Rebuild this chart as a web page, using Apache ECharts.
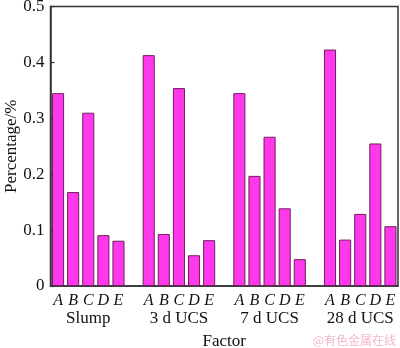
<!DOCTYPE html>
<html>
<head>
<meta charset="utf-8">
<script src="https://cdn.jsdelivr.net/npm/echarts@6/dist/echarts.min.js"></script>
<style>
  html, body { margin: 0; padding: 0; background: #fff; }
  #chart { width: 400px; height: 348px; }
</style>
</head>
<body>
<div id="chart"></div>
<script>
// Factor labels and the grouped response measures
const factors = ['A', 'B', 'C', 'D', 'E'];
const groups = ['Slump', '3 d UCS', '7 d UCS', '28 d UCS'];

// Percentage contribution of each factor, per response
const slump = [0.345, 0.168, 0.310, 0.091, 0.081];
const ucs3d = [0.413, 0.093, 0.354, 0.055, 0.082];
const ucs7d = [0.345, 0.197, 0.267, 0.139, 0.048];
const ucs28d = [0.423, 0.083, 0.129, 0.255, 0.107];

const yTicks = [0, 0.1, 0.2, 0.3, 0.4, 0.5];

// Build one category slot per bar, with an empty slot between groups
const seriesSets = [slump, ucs3d, ucs7d, ucs28d];
const cats = [];
const groupCats = [];
const values = [];
seriesSets.forEach((set, g) => {
  set.forEach((v, i) => {
    cats.push(factors[i]);
    groupCats.push(i === 2 ? groups[g] : '');
    values.push(v);
  });
  if (g < seriesSets.length - 1) {
    cats.push('');
    groupCats.push('');
    values.push('-');
  }
});

const serif = 'Liberation Serif, Times New Roman, serif';
const chart = echarts.init(document.getElementById('chart'));
chart.setOption({
  animation: false,
  grid: {
    left: 50.5, right: 2, top: 6.5, bottom: 62,
    containLabel: false,
    outerBoundsMode: 'none',
    show: true, borderColor: '#333', borderWidth: 1.5
  },
  xAxis: [
    {
      type: 'category',
      data: cats,
      axisLine: { lineStyle: { color: '#333', width: 1.5 } },
      axisTick: { show: false },
      axisLabel: {
        interval: 0, margin: 7, color: '#111',
        fontFamily: serif, fontSize: 16, fontStyle: 'italic'
      }
    },
    {
      type: 'category',
      data: groupCats,
      position: 'bottom',
      axisLine: { show: false },
      axisTick: { show: false },
      axisLabel: {
        interval: 0, margin: 24, color: '#111',
        fontFamily: serif, fontSize: 17
      },
      name: 'Factor',
      nameLocation: 'middle',
      nameGap: 47,
      nameMoveOverlap: false,
      nameTextStyle: { fontFamily: serif, fontSize: 17, color: '#111' }
    }
  ],
  yAxis: {
    type: 'value',
    min: yTicks[0],
    max: yTicks[yTicks.length - 1],
    interval: 0.1,
    axisLine: { show: true, lineStyle: { color: '#333', width: 1.5 } },
    axisTick: { show: true, inside: true, length: 4, lineStyle: { color: '#333', width: 1.2 } },
    splitLine: { show: false },
    axisLabel: {
      margin: 6, color: '#111', fontFamily: serif, fontSize: 17,
      formatter: v => (v === 0 ? '0' : v.toFixed(1))
    },
    name: 'Percentage/%',
    nameLocation: 'middle',
    nameGap: 30,
    nameMoveOverlap: false,
    nameTextStyle: { fontFamily: serif, fontSize: 17, color: '#111' }
  },
  series: [{
    type: 'bar',
    xAxisIndex: 0,
    data: values,
    barWidth: '80%',
    itemStyle: { color: '#ff38ec', borderColor: '#6e1e5c', borderWidth: 1 }
  }],
  graphic: [{
    type: 'text',
    right: 4,
    bottom: 2,
    style: {
      text: '@有色金属在线',
      fill: '#f4b9c8',
      font: '12px "Noto Sans CJK SC", sans-serif'
    }
  }]
});
</script>
</body>
</html>
